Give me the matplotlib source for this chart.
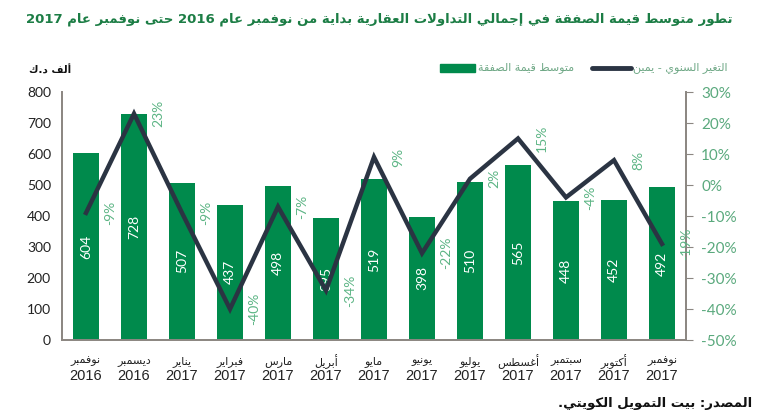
import matplotlib
matplotlib.use("Agg")
import matplotlib.pyplot as plt
from matplotlib.patches import Rectangle
from matplotlib.lines import Line2D
import re

# ---------------- data ----------------
months_ar = ["نوفمبر", "ديسمبر", "يناير", "فبراير", "مارس", "أبريل", "مايو",
             "يونيو", "يوليو", "أغسطس", "سبتمبر", "أكتوبر", "نوفمبر"]
years = ["2016", "2016", "2017", "2017", "2017", "2017", "2017",
         "2017", "2017", "2017", "2017", "2017", "2017"]
avg_deal_value = [604, 728, 507, 437, 498, 395, 519, 398, 510, 565, 448, 452, 492]
yoy_change = [-9, 23, -9, -40, -7, -34, 9, -22, 2, 15, -4, 8, -19]
left_ticks = [0, 100, 200, 300, 400, 500, 600, 700, 800]
right_ticks = [-50, -40, -30, -20, -10, 0, 10, 20, 30]

title_txt = "تطور متوسط قيمة الصفقة في إجمالي التداولات العقارية بداية من نوفمبر عام 2016 حتى نوفمبر عام 2017"
legend_bar_txt = "متوسط قيمة الصفقة"
legend_line_txt = "التغير السنوي - يمين"
unit_txt = "ألف د.ك"
source_txt = "المصدر: بيت التمويل الكويتي."

# ---------------- minimal Arabic shaping (presentation forms) ----------------
DUAL = {'ئ': 0xFE89, 'ب': 0xFE8F, 'ت': 0xFE95, 'ث': 0xFE99, 'ج': 0xFE9D, 'ح': 0xFEA1,
        'خ': 0xFEA5, 'س': 0xFEB1, 'ش': 0xFEB5, 'ص': 0xFEB9, 'ض': 0xFEBD, 'ط': 0xFEC1,
        'ظ': 0xFEC5, 'ع': 0xFEC9, 'غ': 0xFECD, 'ف': 0xFED1, 'ق': 0xFED5, 'ك': 0xFED9,
        'ل': 0xFEDD, 'م': 0xFEE1, 'ن': 0xFEE5, 'ه': 0xFEE9, 'ي': 0xFEF1}
RIGHT = {'آ': 0xFE81, 'أ': 0xFE83, 'ؤ': 0xFE85, 'إ': 0xFE87, 'ا': 0xFE8D, 'ة': 0xFE93,
         'د': 0xFEA9, 'ذ': 0xFEAB, 'ر': 0xFEAD, 'ز': 0xFEAF, 'و': 0xFEED, 'ى': 0xFEEF}
LAMALEF = {'آ': 0xFEF5, 'أ': 0xFEF7, 'إ': 0xFEF9, 'ا': 0xFEFB}


def shape(s):
    chars = []
    i = 0
    while i < len(s):
        if s[i] == 'ل' and i + 1 < len(s) and s[i + 1] in LAMALEF:
            chars.append(('LA', s[i + 1]))
            i += 2
        else:
            chars.append(('C', s[i]))
            i += 1

    def joins_next(item):
        k, c = item
        return k == 'C' and c in DUAL

    def joins_prev(item):
        k, c = item
        return k == 'LA' or c in DUAL or c in RIGHT

    out = []
    for j, item in enumerate(chars):
        k, c = item
        prev_ok = j > 0 and joins_next(chars[j - 1]) and joins_prev(item)
        nxt_ok = j + 1 < len(chars) and joins_next(item) and joins_prev(chars[j + 1])
        if k == 'LA':
            out.append(chr(LAMALEF[c] + (1 if prev_ok else 0)))
        elif c in DUAL:
            b = DUAL[c]
            if prev_ok and nxt_ok:
                out.append(chr(b + 3))
            elif prev_ok:
                out.append(chr(b + 1))
            elif nxt_ok:
                out.append(chr(b + 2))
            else:
                out.append(chr(b))
        elif c in RIGHT:
            out.append(chr(RIGHT[c] + (1 if prev_ok else 0)))
        else:
            out.append(c)
    return "".join(out)


def ar(s):
    t = shape(s)[::-1]
    return re.sub(r'[0-9A-Za-z]+', lambda m: m.group(0)[::-1], t)


# ---------------- style ----------------
GREEN_BAR = "#008A4C"
LINE_C = "#2B3443"
PCT_C = "#5DB585"
RTICK_C = "#5AA97D"
LEG_C = "#6FA886"
TITLE_C = "#1C7D45"
SPINE_C = "#8C8782"

fig = plt.figure(figsize=(7.7, 4.17), dpi=100)
ax = fig.add_axes([62 / 770, 1 - 340 / 417, (686 - 62) / 770, (340 - 92) / 417])
ax2 = ax.twinx()

x = list(range(len(avg_deal_value)))
ax.bar(x, avg_deal_value, width=0.56, color=GREEN_BAR, zorder=2)
ax.set_xlim(-0.5, len(x) - 0.5)
ax.set_ylim(0, 800)
ax.set_yticks(left_ticks)
ax.set_yticklabels([str(v) for v in left_ticks], fontsize=10, family="Lato", color="#222222")
ax.tick_params(axis="y", length=0, pad=8)
ax.set_xticks([])

for xi, v in zip(x, avg_deal_value):
    ax.text(xi, v / 2, str(v), rotation=90, ha="center", va="center",
            color="white", fontsize=10, family="Lato", zorder=4)

ax2.plot(x, yoy_change, color=LINE_C, lw=3.2, zorder=5, solid_joinstyle="miter")
ax2.set_ylim(-50, 30)
ax2.set_yticks(right_ticks)
ax2.set_yticklabels([f"{v}%" for v in right_ticks], fontsize=11, family="Lato", color=RTICK_C)
ax2.tick_params(axis="y", length=5, color=SPINE_C, pad=6)
for xi, v in zip(x, yoy_change):
    ax2.annotate(f"{v}%", (xi, v), xytext=(24, 0), textcoords="offset pixels",
                 rotation=90, ha="center", va="center", color=PCT_C,
                 fontsize=10, family="Lato", zorder=6)

for a in (ax, ax2):
    a.spines["top"].set_visible(False)
    for s in ("left", "right", "bottom"):
        a.spines[s].set_color(SPINE_C)
        a.spines[s].set_linewidth(1.3)

# x labels (month + year)
for xi, m, yv in zip(x, months_ar, years):
    ax.text(xi, -0.085, ar(m), transform=ax.get_xaxis_transform(), ha="center",
            va="center", fontsize=8, family="DejaVu Sans", color="#222222")
    ax.text(xi, -0.147, yv, transform=ax.get_xaxis_transform(), ha="center",
            va="center", fontsize=10.5, family="Liberation Sans", color="#222222")


def fit_width(t, target_px):
    fig.canvas.draw()
    w = t.get_window_extent().width
    t.set_fontsize(t.get_fontsize() * target_px / w)


# title
title = fig.text(732 / 770, 1 - 19 / 417, ar(title_txt), ha="right", va="center",
                 fontsize=11, fontweight="bold", family="DejaVu Sans", color=TITLE_C)
fit_width(title, 702)

# unit label
fig.text(50 / 770, 1 - 70 / 417, ar(unit_txt), ha="center", va="center",
         fontsize=7.5, fontweight="bold", family="DejaVu Sans", color="#111111")

# legend (manual)
fig.patches.append(Rectangle((440 / 770, 1 - 72 / 417), 35 / 770, 8 / 417,
                             transform=fig.transFigure, color=GREEN_BAR))
fig.text(478 / 770, 1 - 68 / 417, ar(legend_bar_txt), ha="left", va="center",
         fontsize=8, family="DejaVu Sans", color=LEG_C)
fig.lines.append(Line2D([592 / 770, 631 / 770], [1 - 68 / 417, 1 - 68 / 417],
                        transform=fig.transFigure, color=LINE_C, lw=3.5,
                        solid_capstyle="round"))
fig.text(633 / 770, 1 - 68 / 417, ar(legend_line_txt), ha="left", va="center",
         fontsize=8, family="DejaVu Sans", color=LEG_C)

# source
src = fig.text(752 / 770, 1 - 403 / 417, ar(source_txt), ha="right", va="center",
               fontsize=9, fontweight="bold", family="DejaVu Sans", color="#111111")
fit_width(src, 195)

fig.savefig("out.png", dpi=100)
